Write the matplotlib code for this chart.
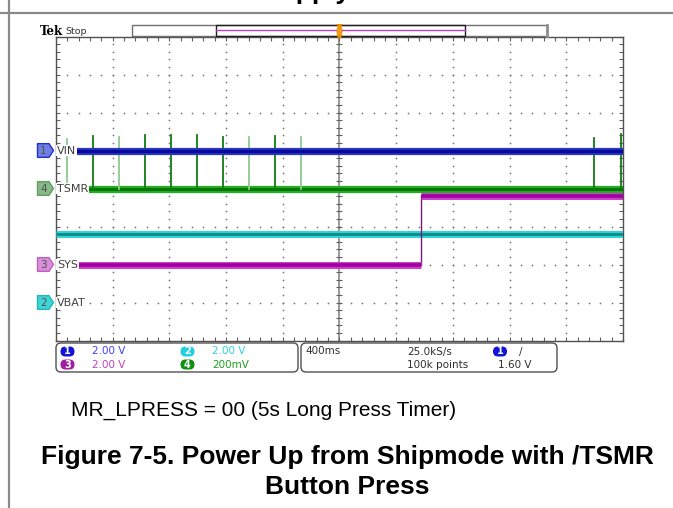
import matplotlib
matplotlib.use("Agg")
import matplotlib.pyplot as plt
import numpy as np
from matplotlib.patches import Rectangle, FancyBboxPatch, Polygon, Ellipse
from matplotlib.transforms import blended_transform_factory as btf

# ---------------- data ----------------
time_per_div = 0.4           # s / div
n_xdiv, n_ydiv = 10, 8
ch_names = ["VIN", "VBAT", "SYS", "TSMR"]        # channels 1..4
ch_nums = [1, 2, 3, 4]
ch_vdiv = [2.0, 2.0, 2.0, 0.2]                    # V / div
ch_offset = [1.0, -3.0, -2.0, 0.0]                # ground marker, div
ch_scale_txt = ["2.00 V", "2.00 V", "2.00 V", "200mV"]
vin_level = 0.0
vbat_level = 3.6
tsmr_level = 0.0
sys_low, sys_high = 0.0, 3.62
sys_step_t = 0.575
spike_t = [-1.92, -1.74, -1.555, -1.37, -1.19, -1.005, -0.82, -0.64, -0.455, -0.27, 1.795, 1.985]
spike_v = [0.26, 0.275, 0.27, 0.28, 0.28, 0.28, 0.27, 0.27, 0.275, 0.27, 0.265, 0.285]
spike_faint = [True, False, True, False, False, False, False, True, False, True, False, False]
rec_text = ["400ms", "25.0kS/s", "100k points", "1.60 V"]

# colours
band = ["#2836cc", "#2cd4d4", "#cc3ccc", "#22b022"]
core = ["#0a0a96", "#0e8a8a", "#a000a0", "#0a760a"]
txtc = ["#3c3cff", "#2ed2e0", "#c040c0", "#1fa01f"]
pillc = ["#1414d8", "#22d0e0", "#a020a0", "#109010"]
markfill = ["#7080e0", "#40d4d4", "#d890d8", "#88b888"]
markedge = ["#2030d0", "#20b8c0", "#c060c0", "#60a060"]

W, H = 673, 508
fig = plt.figure(figsize=(W / 100, H / 100), dpi=100)
fig.patch.set_facecolor("white")

pix = fig.add_axes([0, 0, 1, 1])
pix.set_xlim(0, W)
pix.set_ylim(H, 0)
pix.axis("off")

# page frame lines
pix.plot([9, 9], [0, H], color="#8a8a8a", lw=1.6)
pix.plot([0, W], [12.5, 12.5], color="#8a8a8a", lw=1.6)
pix.text(262, -1.5, "Supply", fontsize=19, fontweight="bold",
         family="Liberation Sans", ha="left", va="baseline", color="black")

# graticule geometry in pixels
gx0, gx1, gy0, gy1 = 56, 623, 36.5, 340.5
sc = fig.add_axes([gx0 / W, 1 - gy1 / H, (gx1 - gx0) / W, (gy1 - gy0) / H], zorder=2)
xmax = n_xdiv / 2 * time_per_div
sc.set_xlim(-xmax, xmax)
sc.set_ylim(-n_ydiv / 2, n_ydiv / 2)
sc.set_facecolor("white")
for s in sc.spines.values():
    s.set_color("#505050")
    s.set_linewidth(1.0)
xmaj = np.arange(-xmax, xmax + 1e-9, time_per_div)
xmin = np.arange(-xmax, xmax + 1e-9, time_per_div / 5)
ymaj = np.arange(-4, 4.001, 1)
ymin = np.arange(-4, 4.001, 0.2)
sc.set_xticks(xmaj)
sc.set_xticks(xmin, minor=True)
sc.set_yticks(ymaj)
sc.set_yticks(ymin, minor=True)
sc.tick_params(which="both", direction="in", length=3, width=0.8, color="#606060",
               top=True, right=True, labelbottom=False, labelleft=False)

# dotted grid
gxd, gyd = [], []
for xv in xmaj[1:-1]:
    if abs(xv) < 1e-9:
        continue
    gxd += [xv] * len(ymin)
    gyd += list(ymin)
for yv in ymaj[1:-1]:
    if abs(yv) < 1e-9:
        continue
    gxd += list(xmin)
    gyd += [yv] * len(xmin)
sc.scatter(gxd, gyd, s=1.6, color="#7a7a7a", linewidths=0, zorder=1)
# centre cross with ticks
sc.axvline(0, color="#9a9a9a", lw=1.4, zorder=1)
sc.axhline(0, color="#9a9a9a", lw=1.4, zorder=1)
sc.scatter([0] * len(ymin), ymin, marker="_", s=16, color="#606060", linewidths=0.8, zorder=1)
sc.scatter(xmin, [0] * len(xmin), marker="|", s=16, color="#606060", linewidths=0.8, zorder=1)

def ylev(ch, v):
    return ch_offset[ch] + v / ch_vdiv[ch]

# cyan VBAT
for lw, c in ((5.0, band[1]), (2.0, core[1])):
    sc.plot([-xmax, xmax], [ylev(1, vbat_level)] * 2, color=c, lw=lw, solid_capstyle="butt", zorder=3)
# magenta SYS
sc.plot([sys_step_t, sys_step_t], [ylev(2, sys_low), ylev(2, sys_high)], color="#7a1a7a", lw=1.0, zorder=3)
for lw, c in ((5.0, band[2]), (2.6, core[2])):
    sc.plot([-xmax, sys_step_t], [ylev(2, sys_low)] * 2, color=c, lw=lw, solid_capstyle="butt", zorder=3)
    sc.plot([sys_step_t, xmax], [ylev(2, sys_high)] * 2, color=c, lw=lw, solid_capstyle="butt", zorder=3)
# green TSMR
for lw, c in ((5.2, band[3]), (2.2, core[3])):
    sc.plot([-xmax, xmax], [ylev(3, tsmr_level)] * 2, color=c, lw=lw, solid_capstyle="butt", zorder=4)
for t, v, f in zip(spike_t, spike_v, spike_faint):
    sc.plot([t, t], [ylev(3, tsmr_level), ylev(3, v)], color="#8ccc8c" if f else "#127a12",
            lw=1.3, zorder=4)
# blue VIN
for lw, c in ((5.2, band[0]), (2.4, core[0])):
    sc.plot([-xmax, xmax], [ylev(0, vin_level)] * 2, color=c, lw=lw, solid_capstyle="butt", zorder=5)

# overlay axes for labels / markers
top = fig.add_axes([0, 0, 1, 1], zorder=3)
top.set_xlim(0, W)
top.set_ylim(H, 0)
top.axis("off")
top.patch.set_alpha(0)
bt = btf(top.transData, sc.transData)
for i, name in enumerate(ch_names):
    yv = ch_offset[i]
    top.text(57, yv, name, transform=bt, fontsize=8, color="#404040", ha="left", va="center",
             family="DejaVu Sans", bbox=dict(boxstyle="square,pad=0.05", fc="white", ec="none"), zorder=5)
    xs = [37.5, 49, 53.5, 49, 37.5]
    hy = 0.18
    ys = [yv + hy, yv + hy, yv, yv - hy, yv - hy]
    top.add_patch(Polygon(list(zip(xs, ys)), closed=True, transform=bt, fc=markfill[i],
                          ec=markedge[i], lw=1.0, zorder=5))
    top.text(43.5, yv, str(ch_nums[i]), transform=bt, fontsize=7.5, color="#505050",
             ha="center", va="center", zorder=6)

# record bar
top.add_patch(Rectangle((131.5, 24.5), 415.5, 11.5, fc="white", ec="#707070", lw=1.0, zorder=5))
top.plot([546.5, 546.5], [24.5, 36], color="#909090", lw=2, zorder=6)
top.add_patch(Rectangle((216, 24.5), 249, 11.5, fc="none", ec="#202020", lw=1.0, zorder=6))
top.plot([216, 465], [29.5, 29.5], color="#c040c0", lw=1.0, zorder=6)
top.add_patch(Ellipse((339.5, 31), 5, 9, fc="#f0a020", ec="#f08c00", lw=0.8, zorder=7))
top.add_patch(Polygon([(336, 24), (343, 24), (339.5, 28)], closed=True, fc="#f08c00", ec="none", zorder=7))
top.add_patch(Polygon([(336, 35), (343, 35), (339.5, 39)], closed=True, fc="#f08c00", ec="none", zorder=7))

top.text(40, 31.5, "Tek", fontsize=8.5, fontweight="bold", family="DejaVu Serif",
         ha="left", va="center", color="black")
top.text(65, 31.5, "Stop", fontsize=6.8, family="DejaVu Sans", ha="left", va="center", color="#303030")

# info panel
top.add_patch(FancyBboxPatch((56, 343), 242, 29, boxstyle="round,pad=0,rounding_size=5",
                             fc="white", ec="#505050", lw=1.0))
top.add_patch(FancyBboxPatch((301, 343), 256, 29, boxstyle="round,pad=0,rounding_size=5",
                             fc="white", ec="#505050", lw=1.0))
rows = [351.5, 364.5]
pos = [(67.5, 92, rows[0]), (187.5, 212, rows[0]), (67.5, 92, rows[1]), (187.5, 212, rows[1])]
for i in range(4):
    px, tx, ry = pos[i]
    top.add_patch(FancyBboxPatch((px - 7, ry - 5), 14, 10, boxstyle="round,pad=0,rounding_size=5",
                                 fc=pillc[i], ec="none"))
    top.text(px, ry, str(ch_nums[i]), fontsize=7, color="white", ha="center", va="center",
             fontweight="bold")
    top.text(tx, ry, ch_scale_txt[i], fontsize=7.5, color=txtc[i], ha="left", va="center")
top.text(305, rows[0], rec_text[0], fontsize=7.5, color="#303030", ha="left", va="center")
top.text(407, rows[0], rec_text[1], fontsize=7.5, color="#303030", ha="left", va="center")
top.text(407, rows[1], rec_text[2], fontsize=7.5, color="#303030", ha="left", va="center")
top.add_patch(FancyBboxPatch((500 - 7, rows[0] - 5), 14, 10, boxstyle="round,pad=0,rounding_size=5",
                             fc=pillc[0], ec="none"))
top.text(500, rows[0], "1", fontsize=7, color="white", ha="center", va="center", fontweight="bold")
top.text(519, rows[0], "/", fontsize=7.5, color="#303030", ha="left", va="center")
top.text(498, rows[1], rec_text[3], fontsize=7.5, color="#303030", ha="left", va="center")

# captions
top.text(71, 410, "MR_LPRESS = 00 (5s Long Press Timer)", fontsize=15, family="Liberation Sans",
         ha="left", va="center", color="black")
top.text(347, 457, "Figure 7-5. Power Up from Shipmode with /TSMR", fontsize=19,
         family="Liberation Sans", fontweight="bold", ha="center", va="center", color="black")
top.text(347, 487, "Button Press", fontsize=19, family="Liberation Sans", fontweight="bold",
         ha="center", va="center", color="black")

fig.savefig("out.png", dpi=100)
